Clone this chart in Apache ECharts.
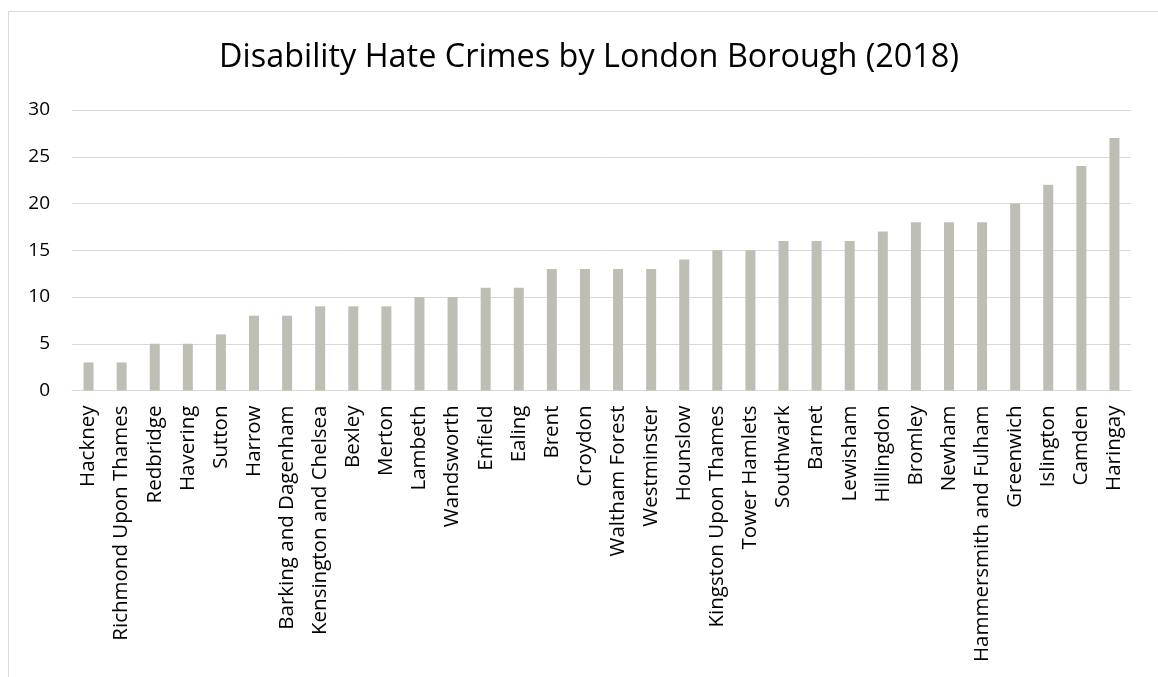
<!DOCTYPE html>
<html><head><meta charset="utf-8">
<script src="https://cdn.jsdelivr.net/npm/echarts@6/dist/echarts.min.js"></script>
<style>html,body{margin:0;padding:0;background:#fff}#c{width:1158px;height:677px}</style>
</head><body><div id="c"></div>
<script>
const categories = ["Hackney","Richmond Upon Thames","Redbridge","Havering","Sutton","Harrow","Barking and Dagenham","Kensington and Chelsea","Bexley","Merton","Lambeth","Wandsworth","Enfield","Ealing","Brent","Croydon","Waltham Forest","Westminster","Hounslow","Kingston Upon Thames","Tower Hamlets","Southwark","Barnet","Lewisham","Hillingdon","Bromley","Newham","Hammersmith and Fulham","Greenwich","Islington","Camden","Haringay"];
const values = [3,3,5,5,6,8,8,9,9,9,10,10,11,11,13,13,13,13,14,15,15,16,16,16,17,18,18,18,20,22,24,27];
const titleText = "Disability Hate Crimes by London Borough (2018)";

const chart = echarts.init(document.getElementById('c'), null, {renderer:'canvas'});
chart.setOption({
  animation:false,
  backgroundColor:'#fff',
  textStyle:{fontFamily:'Open Sans'},
  title:{text:titleText,left:584,textAlign:'center',top:37,
    textStyle:{fontFamily:'Open Sans',fontSize:32.4,fontWeight:'normal',color:'#000'}},
  graphic:[{type:'rect',shape:{x:8.5,y:11.5,width:1200,height:700},
    style:{fill:null,stroke:'#D9D9D9',lineWidth:1},silent:true,z:-10}],
  grid:{left:72,right:27,top:110,bottom:286.5},
  xAxis:{type:'category',data:categories,
    axisLine:{lineStyle:{color:'#D9D9D9',width:1}},axisTick:{show:false},
    axisLabel:{rotate:90,interval:0,margin:15,fontSize:20.5,color:'#000',fontFamily:'Open Sans'}},
  yAxis:{type:'value',min:0,max:30,interval:5,
    axisLine:{show:false},axisTick:{show:false},
    splitLine:{lineStyle:{color:'#D9D9D9',width:1}},
    axisLabel:{margin:22,fontSize:19,color:'#000',fontFamily:'Open Sans'}},
  series:[{type:'bar',data:values,barWidth:10,itemStyle:{color:'#BEBEB5'}}]
});
</script></body></html>
